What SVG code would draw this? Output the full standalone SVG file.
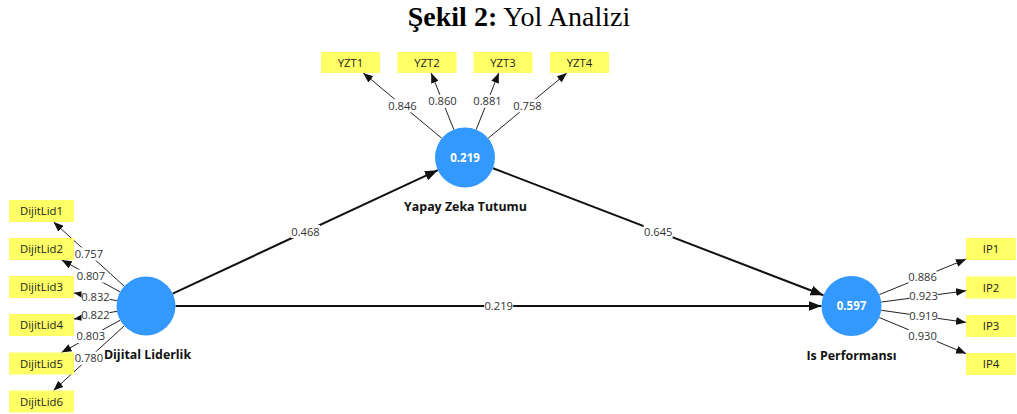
<svg xmlns="http://www.w3.org/2000/svg" width="1017" height="414" viewBox="0 0 1017 414">
<style>
.ind{fill:#FFFF66;}
.indt{font-family:"Open Sans","Noto Sans",sans-serif;font-size:11.3px;fill:#222;text-anchor:middle;}
.lv{fill:#3399FF;}
.lvt{font-family:"Open Sans","Noto Sans",sans-serif;font-size:11.5px;font-weight:bold;fill:#fff;text-anchor:middle;}
.lvn{font-family:"Open Sans","Noto Sans",sans-serif;font-size:12.4px;font-weight:bold;fill:#111;text-anchor:middle;}
.load{stroke:#222;stroke-width:1;fill:none;marker-end:url(#ah);}
.path{stroke:#111;stroke-width:2;fill:none;marker-end:url(#ahb);}
.lb{fill:#fff;}
.lbt{font-family:"Open Sans","Noto Sans",sans-serif;font-size:11.2px;fill:#333;text-anchor:middle;}
</style>
<defs>
<marker id="ah" markerUnits="userSpaceOnUse" markerWidth="10" markerHeight="8" refX="10" refY="4" orient="auto">
<path d="M0,0 L10,4 L0,8 z" fill="#111"/>
</marker>
<marker id="ahb" markerUnits="userSpaceOnUse" markerWidth="13" markerHeight="10" refX="13" refY="5" orient="auto">
<path d="M0,0 L13,5 L0,10 z" fill="#111"/>
</marker>
</defs>
<rect width="1017" height="414" fill="#fff"/>
<text x="519" y="26" text-anchor="middle" font-family="'Liberation Serif','Times New Roman',serif" font-size="28" fill="#000"><tspan font-weight="bold">Şekil 2:</tspan> Yol Analizi</text>

<g id="connectors">
<line class="path" x1="172.7" y1="293.55" x2="437.8" y2="170.2"/>
<line class="path" x1="493" y1="168.26" x2="823.5" y2="295.2"/>
<line class="path" x1="175.5" y1="306" x2="821.5" y2="306"/>
<line class="load" x1="124.2" y1="286.2" x2="53.6" y2="222"/>
<line class="load" x1="120.1" y1="291.9" x2="61.7" y2="260"/>
<line class="load" x1="117" y1="300.7" x2="74" y2="292.9"/>
<line class="load" x1="117" y1="311.3" x2="74" y2="319.1"/>
<line class="load" x1="120.2" y1="320.2" x2="61.5" y2="352.5"/>
<line class="load" x1="124.2" y1="325.9" x2="53.5" y2="390.5"/>
<line class="load" x1="441.9" y1="138.35" x2="363.2" y2="73"/>
<line class="load" x1="453.86" y1="129.65" x2="431.2" y2="73"/>
<line class="load" x1="476.14" y1="129.65" x2="498.8" y2="73"/>
<line class="load" x1="488.1" y1="138.35" x2="566.8" y2="73"/>
<line class="load" x1="879.3" y1="294.65" x2="966" y2="259.2"/>
<line class="load" x1="881.24" y1="302.06" x2="966" y2="290.8"/>
<line class="load" x1="881.2" y1="310.26" x2="966" y2="322.4"/>
<line class="load" x1="879.2" y1="317.5" x2="966" y2="353.6"/>
<g id="labels">
<rect class="lb" x="291" y="225" width="29" height="13"/><text class="lbt" x="305.5" y="235.5">0.468</text>
<rect class="lb" x="643.7" y="225" width="29" height="13"/><text class="lbt" x="658.2" y="235.5">0.645</text>
<rect class="lb" x="484.2" y="299.5" width="29" height="13"/><text class="lbt" x="498.7" y="310">0.219</text>
<rect class="lb" x="75" y="247.5" width="28" height="13"/><text class="lbt" x="88.9" y="258">0.757</text>
<rect class="lb" x="77" y="269.5" width="28" height="13"/><text class="lbt" x="90.9" y="280">0.807</text>
<rect class="lb" x="81.5" y="290.5" width="28" height="13"/><text class="lbt" x="95.5" y="301">0.832</text>
<rect class="lb" x="81.5" y="308.7" width="28" height="13"/><text class="lbt" x="95.5" y="319.2">0.822</text>
<rect class="lb" x="76.8" y="330" width="28" height="13"/><text class="lbt" x="90.8" y="340.4">0.803</text>
<rect class="lb" x="75" y="351.7" width="28" height="13"/><text class="lbt" x="88.9" y="362.2">0.780</text>
<rect class="lb" x="388.5" y="99.2" width="28" height="13"/><text class="lbt" x="402.5" y="109.7">0.846</text>
<rect class="lb" x="428.5" y="94.8" width="28" height="13"/><text class="lbt" x="442.5" y="105.3">0.860</text>
<rect class="lb" x="473.5" y="94.8" width="28" height="13"/><text class="lbt" x="487.5" y="105.3">0.881</text>
<rect class="lb" x="513.5" y="99.2" width="28" height="13"/><text class="lbt" x="527.5" y="109.7">0.758</text>
<rect class="lb" x="908.6" y="270.4" width="28" height="13"/><text class="lbt" x="922.6" y="280.9">0.886</text>
<rect class="lb" x="909.6" y="289.9" width="28" height="13"/><text class="lbt" x="923.6" y="300.4">0.923</text>
<rect class="lb" x="909.6" y="309.8" width="28" height="13"/><text class="lbt" x="923.6" y="320.3">0.919</text>
<rect class="lb" x="908.6" y="329.1" width="28" height="13"/><text class="lbt" x="922.6" y="339.6">0.930</text>
</g>
</g>

<g id="dijital-liderlik"><circle class="lv" cx="146" cy="306" r="29.5"/><text class="lvn" x="147.5" y="358.5">Dijital Liderlik</text></g>
<g id="yapay-zeka-tutumu"><circle class="lv" cx="465" cy="157.5" r="30"/><text class="lvt" x="465" y="161.5">0.219</text><text class="lvn" x="465.5" y="210.5">Yapay Zeka Tutumu</text></g>
<g id="is-performansi"><circle class="lv" cx="851.5" cy="306" r="30"/><text class="lvt" x="851.5" y="310">0.597</text><text class="lvn" x="851.5" y="359.5">Is Performansı</text></g>

<g id="DijitLid1"><rect class="ind" x="9" y="200" width="65" height="22"/><text class="indt" x="41.5" y="215">DijitLid1</text></g>
<g id="DijitLid2"><rect class="ind" x="9" y="238" width="65" height="22"/><text class="indt" x="41.5" y="253">DijitLid2</text></g>
<g id="DijitLid3"><rect class="ind" x="9" y="276" width="65" height="22"/><text class="indt" x="41.5" y="291">DijitLid3</text></g>
<g id="DijitLid4"><rect class="ind" x="9" y="314" width="65" height="22"/><text class="indt" x="41.5" y="329">DijitLid4</text></g>
<g id="DijitLid5"><rect class="ind" x="9" y="352.5" width="65" height="22"/><text class="indt" x="41.5" y="367.5">DijitLid5</text></g>
<g id="DijitLid6"><rect class="ind" x="9" y="390.5" width="65" height="22"/><text class="indt" x="41.5" y="405.5">DijitLid6</text></g>

<g id="YZT1"><rect class="ind" x="321" y="52" width="59" height="21"/><text class="indt" x="350.5" y="66.5">YZT1</text></g>
<g id="YZT2"><rect class="ind" x="397.5" y="52" width="59" height="21"/><text class="indt" x="427" y="66.5">YZT2</text></g>
<g id="YZT3"><rect class="ind" x="473.5" y="52" width="59" height="21"/><text class="indt" x="503" y="66.5">YZT3</text></g>
<g id="YZT4"><rect class="ind" x="550" y="52" width="59" height="21"/><text class="indt" x="579.5" y="66.5">YZT4</text></g>

<g id="IP1"><rect class="ind" x="966" y="238" width="50" height="22"/><text class="indt" x="991" y="253">IP1</text></g>
<g id="IP2"><rect class="ind" x="966" y="276.5" width="50" height="22"/><text class="indt" x="991" y="291.5">IP2</text></g>
<g id="IP3"><rect class="ind" x="966" y="315" width="50" height="22"/><text class="indt" x="991" y="330">IP3</text></g>
<g id="IP4"><rect class="ind" x="966" y="353" width="50" height="22"/><text class="indt" x="991" y="368">IP4</text></g>
</svg>
